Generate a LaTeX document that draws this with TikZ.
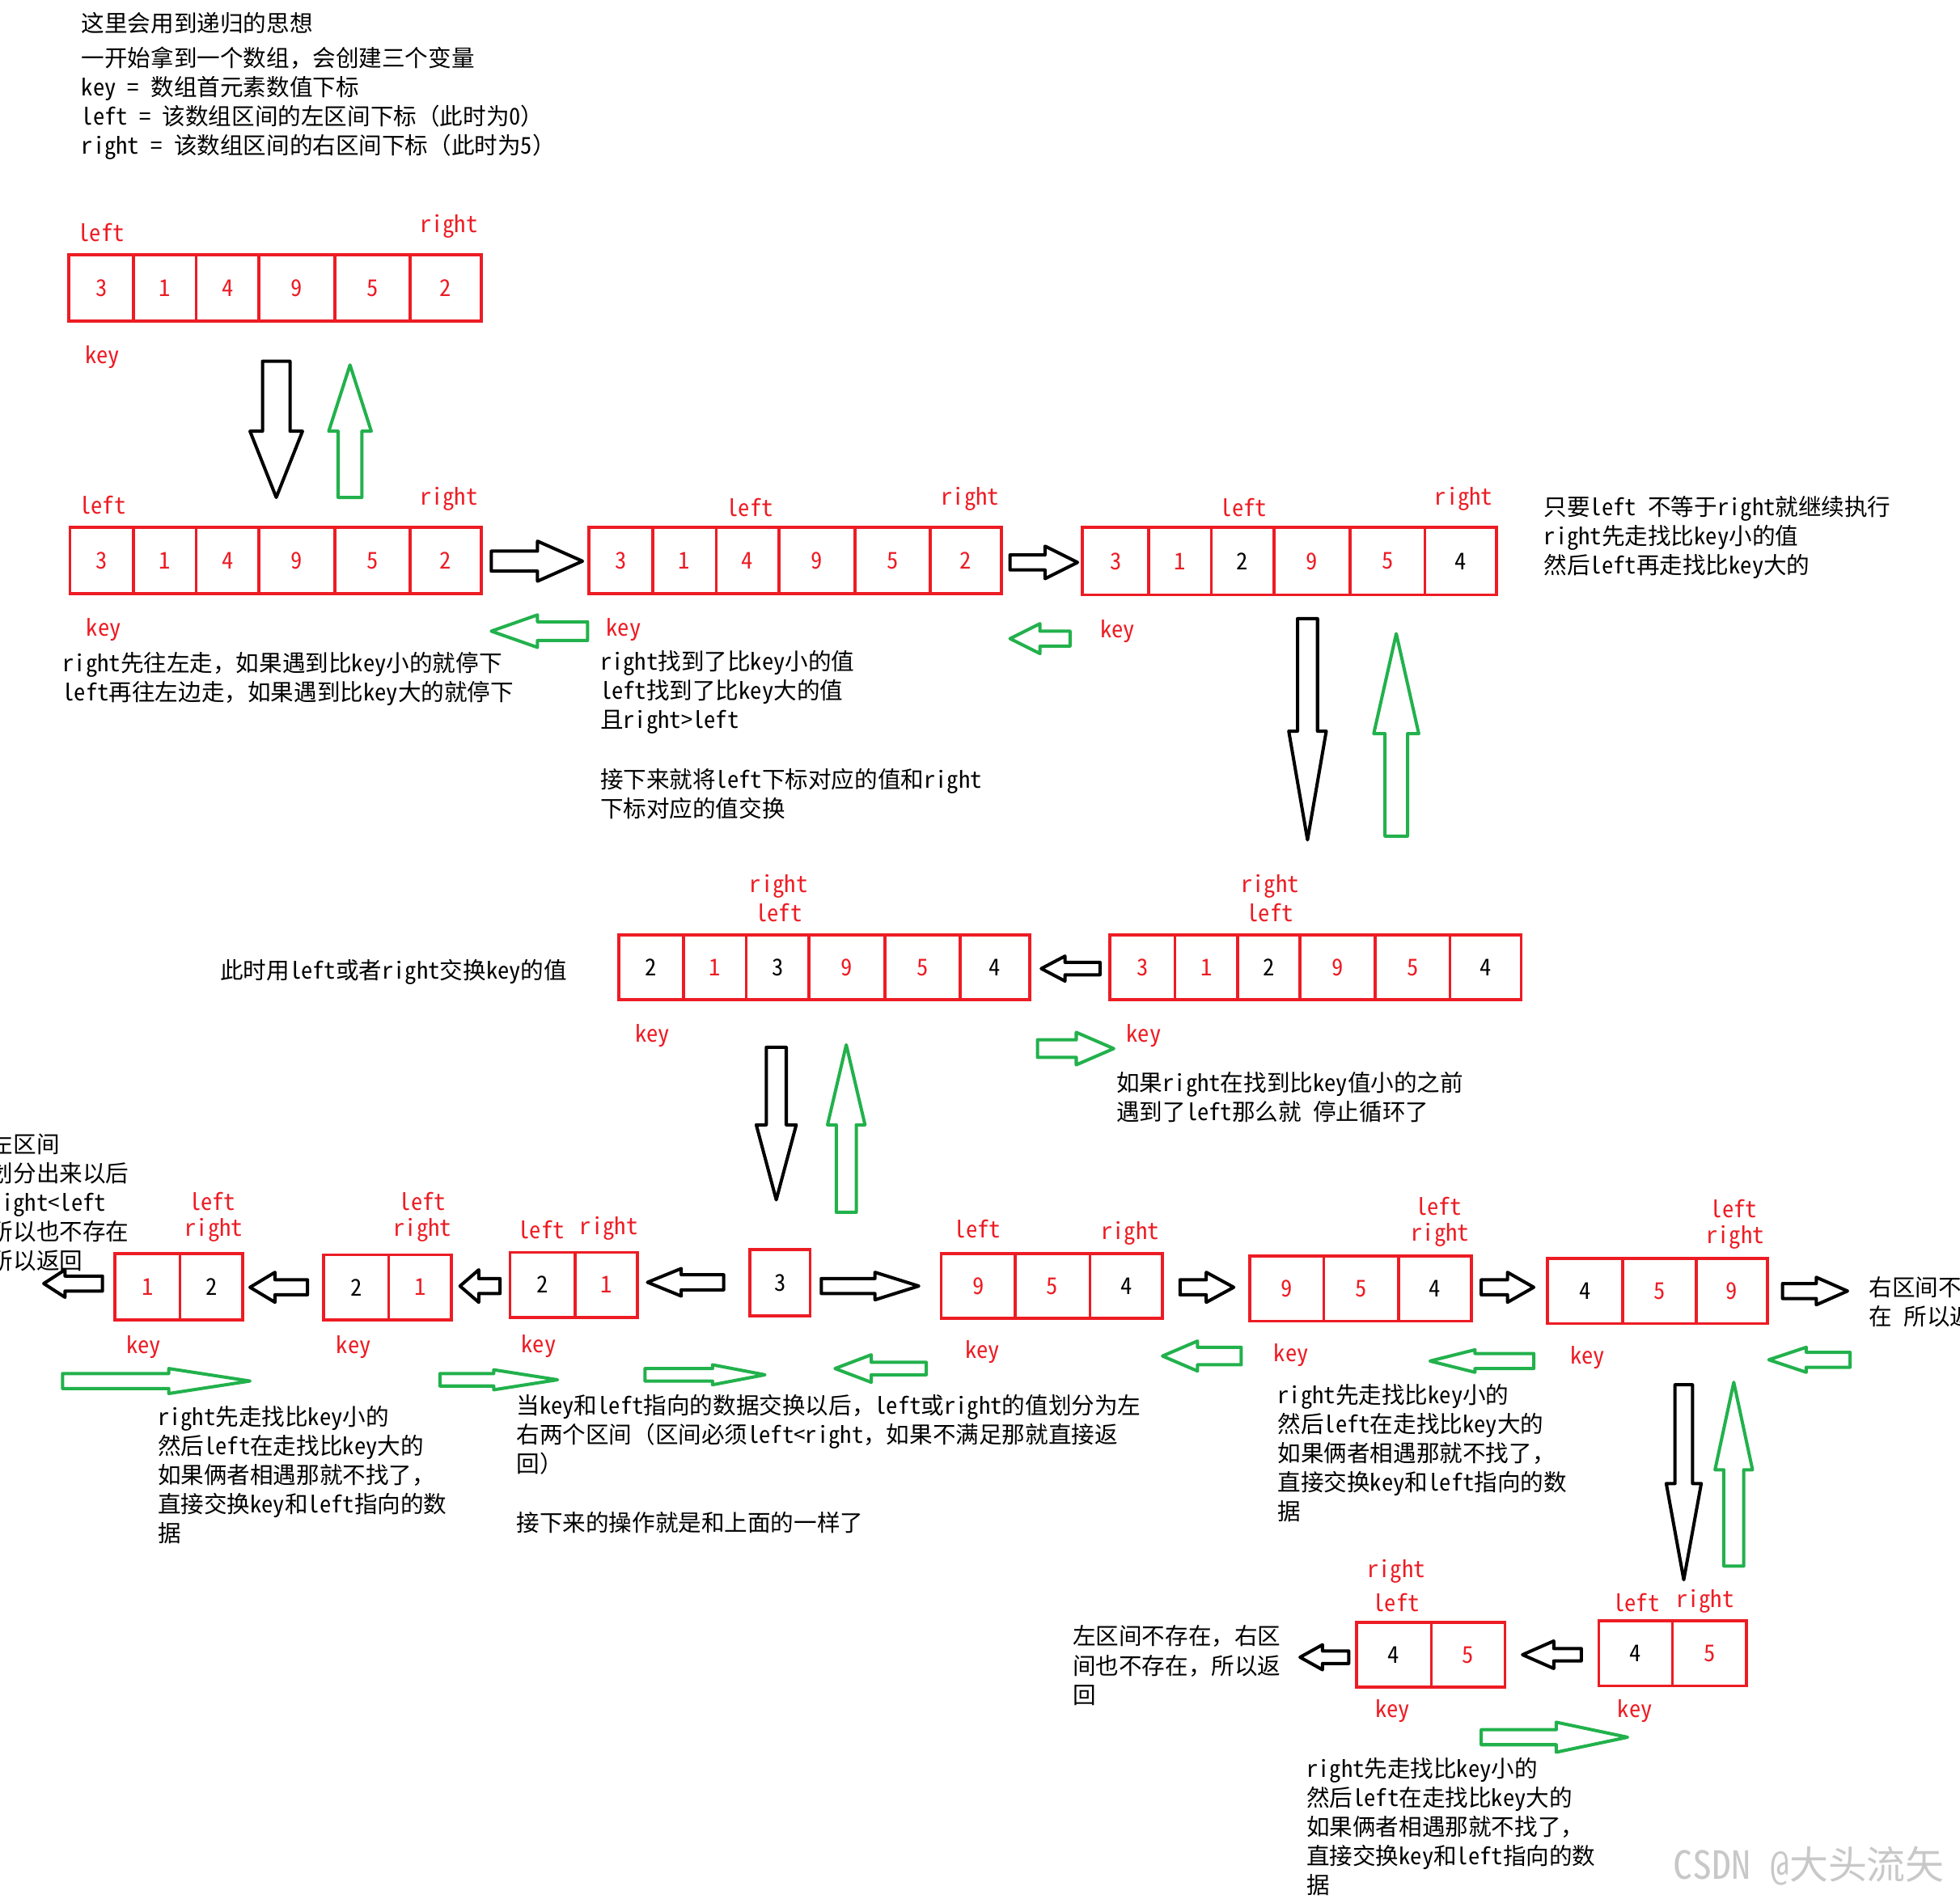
\documentclass[tikz,border=0pt]{standalone}
\usepackage{fontspec}
\setmainfont{Noto Sans CJK SC}[RawFeature=+hwid]
\newfontfamily\fw{Noto Sans CJK SC}
\newcommand\zc{{\fw ，}}
\newcommand\zl{{\fw （}}
\newcommand\zr{{\fw ）}}
\definecolor{pred}{RGB}{237,28,36}
\definecolor{pgreen}{RGB}{34,177,76}
\definecolor{wmark}{RGB}{200,200,200}
\tikzset{
  cellbox/.style={draw=pred, line width=2.4pt, inner sep=0pt, outer sep=0pt},
  lbl/.style={text=pred, inner sep=0pt},
  txt/.style={anchor=north west, align=left, inner sep=0pt},
  blockar/.style={line width=2.6pt, line join=round},
}
% array of cells: name, top y, bottom y, list xa/xb/value/colour
\newcommand\arr[4]{%
  \foreach \xa/\xb/\vv/\cc [count=\ii] in {#4} {%
    \node[cellbox, text=\cc, minimum width={\xb-\xa}, minimum height={#3-#2}]
      (#1-\ii) at ({(\xa+\xb)/2},{(#2+#3)/2}) {\vv};}}
% horizontal block arrow: colour, tail x, head base x, tip x, centre y, shaft half width, head half width
\newcommand\harr[7]{%
  \draw[blockar, draw=#1] (#2,{#5-#6}) -- (#3,{#5-#6}) -- (#3,{#5-#7}) -- (#4,#5)
    -- (#3,{#5+#7}) -- (#3,{#5+#6}) -- (#2,{#5+#6}) -- cycle;}
% vertical block arrow: colour, tail y, head base y, tip y, centre x, shaft half width, head half width
\newcommand\varr[7]{%
  \draw[blockar, draw=#1] ({#5-#6},#2) -- ({#5-#6},#3) -- ({#5-#7},#3) -- (#5,#4)
    -- ({#5+#7},#3) -- ({#5+#6},#3) -- ({#5+#6},#2) -- cycle;}
\begin{document}
\begin{tikzpicture}[x=1pt, y=-1pt, font=\fontsize{18.5}{23.3}\selectfont]
\useasboundingbox (0,0) rectangle (1568,1519);
\fill[white] (0,0) rectangle (1568,1519);
\clip (0,0) rectangle (1568,1519);

% ---------- top explanation ----------
\node[txt] (t0) at (65,9.5) {这里会用到递归的思想};
\node[txt] (t1) at (65,37.5) {一开始拿到一个数组\zc 会创建三个变量\\key = 数组首元素数值下标\\left = 该数组区间的左区间下标\zl 此时为0\zr\\right = 该数组区间的右区间下标\zl 此时为5\zr};

% ---------- row 1 ----------
\arr{A1}{204}{257}{55/107/3/pred,107/157/1/pred,157/207/4/pred,207/268/9/pred,268/328/5/pred,328/385/2/pred}
\node[lbl] (a1l) at (81,186) {left};
\node[lbl] (a1r) at (359,181) {right};
\node[lbl] (a1k) at (82,286) {key};
\varr{black}{289}{345}{398}{221}{11}{21}
\varr{pgreen}{398}{345}{292}{280}{9.5}{17}

% ---------- row 2 ----------
\arr{A2}{422}{475}{56/107/3/pred,107/157/1/pred,157/207/4/pred,207/268/9/pred,268/328/5/pred,328/385/2/pred}
\node[lbl] (a2l) at (82,404) {left};
\node[lbl] (a2r) at (359,399) {right};
\node[lbl] (a2k) at (83,504) {key};
\harr{black}{393}{430}{466}{449}{8}{16}
\harr{pgreen}{470}{430}{393}{505}{7.5}{13}

\arr{A3}{422}{475}{471/522/3/pred,522/573/1/pred,573/623/4/pred,623/684/9/pred,684/744/5/pred,744/801/2/pred}
\node[lbl] (a3l) at (600,406) {left};
\node[lbl] (a3r) at (776,399) {right};
\node[lbl] (a3k) at (499,504) {key};
\harr{black}{808}{836}{862}{450}{6}{13}
\harr{pgreen}{856}{832}{808}{511}{6}{12}

\arr{A4}{422}{476}{866/919/3/pred,919/969/1/pred,969/1019/2/black,1019/1080/9/pred,1080/1140/5/pred,1140/1197/4/black}
\node[lbl] (a4l) at (995,406) {left};
\node[lbl] (a4r) at (1171,399) {right};
\node[lbl] (a4k) at (894,505) {key};

\node[txt] (t2) at (50,521.5) {right先往左走\zc 如果遇到比key小的就停下\\left再往左边走\zc 如果遇到比key大的就停下};
\node[txt] (t3) at (480,520.5) {right找到了比key小的值\\left找到了比key大的值\\且right>left};
\node[txt] (t4) at (480,614.5) {接下来就将left下标对应的值和right\\下标对应的值交换};
\node[txt] (t5) at (1235,396.5) {只要left 不等于right就继续执行\\right先走找比key小的值\\然后left再走找比key大的};

\varr{black}{495}{585}{672}{1046}{8}{15}
\varr{pgreen}{669}{587}{507}{1117}{9}{18}

% ---------- row 3 ----------
\node[anchor=west, inner sep=0pt] (t6) at (176,778) {此时用left或者right交换key的值};
\arr{A5}{748}{800}{495/547/2/black,547/597/1/pred,597/647/3/black,647/708/9/pred,708/768/5/pred,768/824/4/black}
\node[lbl] (a5r) at (623,709) {right};
\node[lbl] (a5l) at (623,730) {left};
\node[lbl] (a5k) at (522,829) {key};
\harr{black}{880}{852}{833}{775}{5}{10}
\harr{pgreen}{830}{861}{891}{839}{7}{13}
\arr{A6}{748}{800}{888/940/3/pred,940/990/1/pred,990/1040/2/black,1040/1100/9/pred,1100/1160/5/pred,1160/1217/4/black}
\node[lbl] (a6r) at (1016,709) {right};
\node[lbl] (a6l) at (1016,730) {left};
\node[lbl] (a6k) at (915,829) {key};
\node[txt] (t7) at (893,857.5) {如果right在找到比key值小的之前\\遇到了left那么就 停止循环了};

\varr{black}{838}{900}{960}{621}{8}{16}
\varr{pgreen}{970}{900}{836}{677}{8}{15}

% ---------- row 4 ----------
\node[txt] (t8) at (-8,906.5) {左区间\\划分出来以后\\right<left\\所以也不存在\\所以返回};
\harr{black}{82}{52}{35}{1027}{6}{11}
\arr{B1}{1003}{1056}{92/144/1/pred,144/194/2/black}
\node[lbl] (b1l) at (170,961) {left};
\node[lbl] (b1r) at (171,984) {right};
\node[lbl] (b1k) at (115,1078) {key};
\harr{black}{246}{220}{200}{1030}{6}{12}
\arr{B2}{1004}{1056}{259/311/2/black,311/361/1/pred}
\node[lbl] (b2l) at (338,961) {left};
\node[lbl] (b2r) at (338,984) {right};
\node[lbl] (b2k) at (283,1078) {key};
\harr{black}{400}{383}{368}{1029}{6}{13}
\arr{B3}{1002}{1054}{408/460/2/black,460/510/1/pred}
\node[lbl] (b3l) at (433,984) {left};
\node[lbl] (b3r) at (487,983) {right};
\node[lbl] (b3k) at (431,1077) {key};
\harr{black}{579}{545}{518}{1026}{6}{11}
\arr{B4}{1000}{1053}{600/648/3/black}
\harr{black}{657}{700}{735}{1029}{6}{11}
\arr{B5}{1003}{1055}{753/812/9/pred,812/872/5/pred,872/930/4/black}
\node[lbl] (b5l) at (782,983) {left};
\node[lbl] (b5r) at (904,987) {right};
\node[lbl] (b5k) at (786,1082) {key};
\harr{black}{944}{965}{987}{1030}{6}{12}
\arr{B6}{1005}{1057}{1000/1059/9/pred,1059/1119/5/pred,1119/1177/4/black}
\node[lbl] (b6l) at (1151,965) {left};
\node[lbl] (b6r) at (1152,988) {right};
\node[lbl] (b6k) at (1033,1084) {key};
\harr{black}{1185}{1206}{1227}{1030}{6}{12}
\arr{B7}{1007}{1059}{1238/1298/4/black,1298/1357/5/pred,1357/1414/9/pred}
\node[lbl] (b7l) at (1387,967) {left};
\node[lbl] (b7r) at (1388,990) {right};
\node[lbl] (b7k) at (1270,1086) {key};
\harr{black}{1426}{1453}{1478}{1033}{6}{11}
\node[txt] (t13) at (1495,1021.5) {右区间不存\\在 所以返回};

% green arrows row 4
\harr{pgreen}{50}{135}{200}{1105}{6}{10}
\harr{pgreen}{352}{395}{446}{1104}{5}{8}
\harr{pgreen}{516}{570}{612}{1100}{5}{8}
\harr{pgreen}{741}{697}{668}{1095}{5}{11}
\harr{pgreen}{993}{958}{930}{1085}{7}{12}
\harr{pgreen}{1227}{1180}{1144}{1089}{6}{9}
\harr{pgreen}{1480}{1445}{1415}{1088}{6}{10}

\node[txt] (t9) at (126,1124.5) {right先走找比key小的\\然后left在走找比key大的\\如果俩者相遇那就不找了\zc\\直接交换key和left指向的数\\据};
\node[txt] (t10) at (413,1115.5) {当key和left指向的数据交换以后\zc left或right的值划分为左\\右两个区间\zl 区间必须left<right\zc 如果不满足那就直接返\\回\zr};
\node[txt] (t11) at (413,1209.5) {接下来的操作就是和上面的一样了};
\node[txt] (t12) at (1022,1107.5) {right先走找比key小的\\然后left在走找比key大的\\如果俩者相遇那就不找了\zc\\直接交换key和left指向的数\\据};

\varr{black}{1108}{1187}{1264}{1347}{7}{14}
\varr{pgreen}{1253}{1176}{1106}{1387}{8}{15}

% ---------- row 5 ----------
\node[txt] (t14) at (858,1300.5) {左区间不存在\zc 右区\\间也不存在\zc 所以返\\回};
\harr{black}{1079}{1058}{1040}{1326}{5}{10}
\arr{C1}{1298}{1350}{1085/1145/4/black,1145/1204/5/pred}
\node[lbl] (c1r) at (1117,1257) {right};
\node[lbl] (c1l) at (1117,1282) {left};
\node[lbl] (c1k) at (1114,1369) {key};
\harr{black}{1265}{1243}{1218}{1324}{5}{11}
\arr{C2}{1297}{1349}{1279/1338/4/black,1338/1397/5/pred}
\node[lbl] (c2l) at (1309,1282) {left};
\node[lbl] (c2r) at (1364,1281) {right};
\node[lbl] (c2k) at (1308,1369) {key};
\harr{pgreen}{1185}{1245}{1302}{1390}{6}{12}
\node[txt] (t15) at (1045,1406.5) {right先走找比key小的\\然后left在走找比key大的\\如果俩者相遇那就不找了\zc\\直接交换key和left指向的数\\据};

\node[text=wmark, inner sep=0pt, font=\fontsize{31}{31}\selectfont] (wm) at (1447,1493) {CSDN @大头流矢};
\end{tikzpicture}
\end{document}
